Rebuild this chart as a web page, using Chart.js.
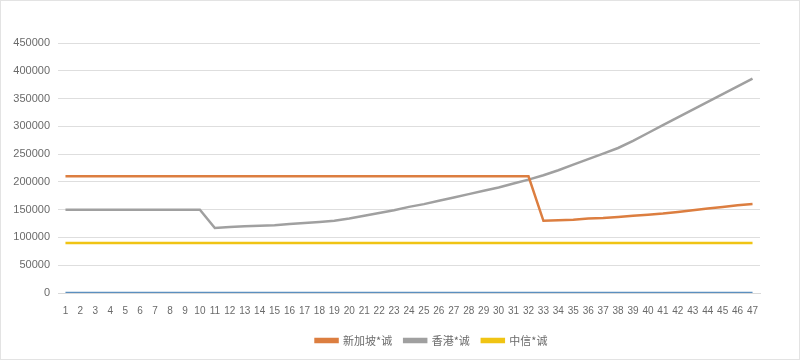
<!DOCTYPE html>
<html>
<head>
<meta charset="utf-8">
<script src="https://cdn.jsdelivr.net/npm/chart.js@4/dist/chart.umd.min.js"></script>
<style>
    body { margin: 0; background: #fff; }
    #wrap { width: 800px; height: 360px; box-sizing: border-box; border: 1px solid #e3e3e3; }
</style>
</head>
<body>
<div id="wrap"><canvas id="growthChart" width="798" height="358"></canvas></div>
<script>
// x categories 1..47
const periods = ['1','2','3','4','5','6','7','8','9','10','11','12','13','14','15','16','17','18','19','20',
    '21','22','23','24','25','26','27','28','29','30','31','32','33','34','35','36','37','38','39','40',
    '41','42','43','44','45','46','47'];

const singapore = [210000,210000,210000,210000,210000,210000,210000,210000,210000,210000,
    210000,210000,210000,210000,210000,210000,210000,210000,210000,210000,
    210000,210000,210000,210000,210000,210000,210000,210000,210000,210000,
    210000,210000,130000,131000,132000,134000,135000,137000,139000,141000,
    143000,146000,149000,152000,155000,158000,160000];

const hongkong = [150000,150000,150000,150000,150000,150000,150000,150000,150000,150000,
    117000,119000,120000,121000,122000,124000,126000,128000,130000,134000,
    139000,144000,149000,155000,160000,166000,172000,178000,184000,190000,
    197000,204000,212000,221000,231000,241000,251000,261000,274000,288000,
    302000,316000,330000,344000,358000,372000,386000];

const citic = [90000,90000,90000,90000,90000,90000,90000,90000,90000,90000,
    90000,90000,90000,90000,90000,90000,90000,90000,90000,90000,
    90000,90000,90000,90000,90000,90000,90000,90000,90000,90000,
    90000,90000,90000,90000,90000,90000,90000,90000,90000,90000,
    90000,90000,90000,90000,90000,90000,90000];

const baseline = [0,0,0,0,0,0,0,0,0,0,0,0,0,0,0,0,0,0,0,0,0,0,0,0,0,0,0,0,0,0,
    0,0,0,0,0,0,0,0,0,0,0,0,0,0,0,0,0];

const seriesNames = ['新加坡*诚', '香港*诚', '中信*诚', ''];
const yTicks = [0, 50000, 100000, 150000, 200000, 250000, 300000, 350000, 400000, 450000];

function makeSet(label, data, color) {
    return {
        label: label,
        data: data,
        borderColor: color,
        backgroundColor: color,
        borderWidth: 2.5,
        pointRadius: 0,
        tension: 0,
        fill: false
    };
}

// legend in the original sits a bit right of centre
const legendShift = {
    id: 'legendShift',
    afterUpdate(chart) {
        chart.legend.left += 51;
        chart.legend.right += 51;
    }
};

let ctx = document.getElementById('growthChart');
let chart = new Chart(ctx, {
    type: 'line',
    data: {
        labels: periods,
        datasets: [
            makeSet(seriesNames[0], singapore, '#dc7e40'),
            makeSet(seriesNames[1], hongkong, '#a0a0a0'),
            makeSet(seriesNames[2], citic, '#f0c414'),
            makeSet(seriesNames[3], baseline, '#5b8fbf')
        ]
    },
    plugins: [legendShift],
    options: {
        responsive: false,
        animation: false,
        layout: { padding: { top: 42, right: 39, left: 0, bottom: 3 } },
        plugins: {
            tooltip: { enabled: false },
            legend: {
                position: 'bottom',
                labels: {
                    filter: item => item.datasetIndex < 3,
                    boxWidth: 22,
                    boxHeight: 3,
                    padding: 12,
                    color: '#6a6a6a',
                    font: { family: '"Noto Sans CJK SC", sans-serif', size: 11 }
                }
            }
        },
        scales: {
            x: {
                offset: true,
                grid: { display: false },
                border: { display: true, color: '#d9d9d9' },
                ticks: {
                    autoSkip: false,
                    maxRotation: 0,
                    padding: 4,
                    color: '#6a6a6a',
                    font: { family: '"Liberation Sans", sans-serif', size: 10 }
                },
                afterFit: scale => { scale.height = 30; }
            },
            y: {
                min: 0,
                max: 450000,
                afterBuildTicks: scale => { scale.ticks = yTicks.map(v => ({ value: v })); },
                grid: { color: '#dedede', lineWidth: 1, drawTicks: false },
                border: { display: false },
                ticks: {
                    padding: 8,
                    color: '#6a6a6a',
                    font: { family: '"Liberation Sans", sans-serif', size: 11 },
                    callback: value => String(value)
                },
                afterFit: scale => { scale.width = 57; }
            }
        }
    }
});
</script>
</body>
</html>
